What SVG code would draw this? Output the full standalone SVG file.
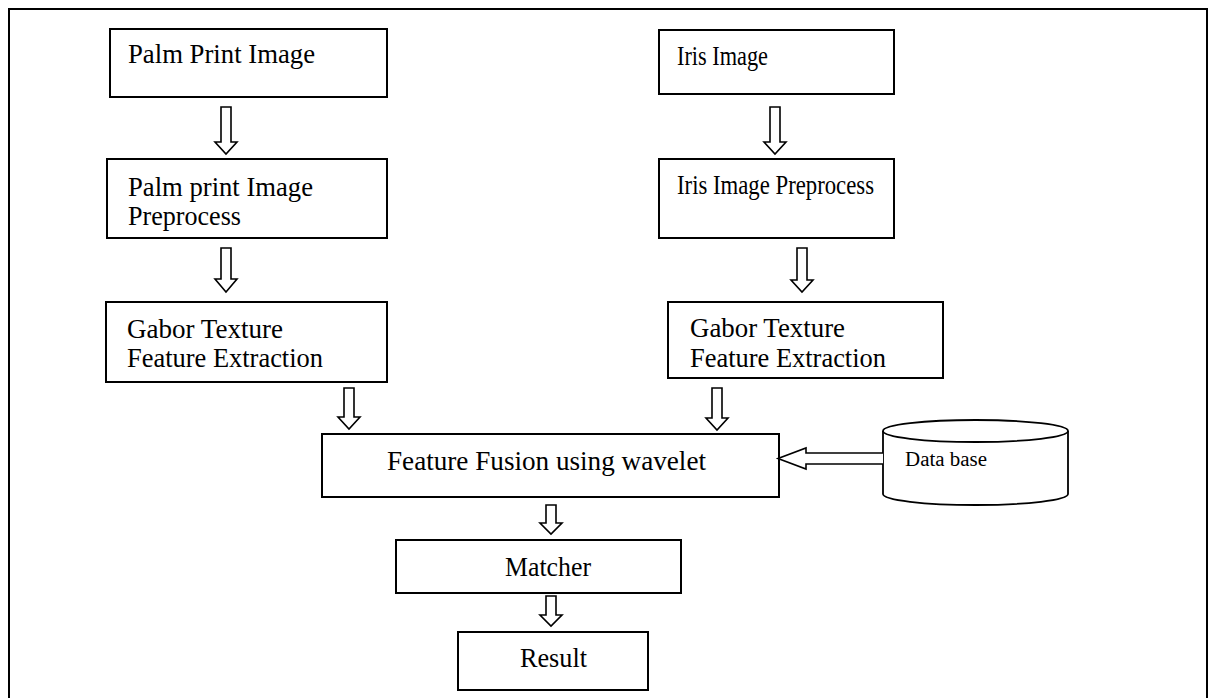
<svg xmlns="http://www.w3.org/2000/svg" width="1209" height="698" viewBox="0 0 1209 698">
  <style>
    .box { fill: #fff; stroke: #000; stroke-width: 2; }
    .frame { fill: none; stroke: #000; stroke-width: 2; }
    .arrow { fill: #fff; stroke: #000; stroke-width: 1.6; stroke-linejoin: miter; }
    .db { fill: #fff; stroke: #000; stroke-width: 1.8; }
    .lbl { font-family: "Liberation Serif", "Times New Roman", serif; font-size: 28px; fill: #000; }
    .small { font-family: "Liberation Serif", "Times New Roman", serif; font-size: 20px; fill: #000; }
  </style>
  <rect width="1209" height="698" fill="#fff"/>
  <rect class="frame" x="9" y="9" width="1198" height="700"/>

  <g id="palm-image">
    <rect class="box" x="110" y="29" width="277" height="68"/>
    <text class="lbl" x="128" y="63" textLength="187" lengthAdjust="spacingAndGlyphs">Palm Print Image</text>
  </g>
  <g id="palm-preprocess">
    <rect class="box" x="107" y="159" width="280" height="79"/>
    <text class="lbl" x="128" y="196" textLength="185" lengthAdjust="spacingAndGlyphs">Palm print Image</text>
    <text class="lbl" x="128" y="225" textLength="113" lengthAdjust="spacingAndGlyphs">Preprocess</text>
  </g>
  <g id="palm-gabor">
    <rect class="box" x="106" y="302" width="281" height="80"/>
    <text class="lbl" x="127" y="338" textLength="156" lengthAdjust="spacingAndGlyphs">Gabor Texture</text>
    <text class="lbl" x="127" y="367" textLength="196" lengthAdjust="spacingAndGlyphs">Feature Extraction</text>
  </g>
  <g id="iris-image">
    <rect class="box" x="659" y="30" width="235" height="64"/>
    <text class="lbl" x="677" y="65" textLength="91" lengthAdjust="spacingAndGlyphs">Iris Image</text>
  </g>
  <g id="iris-preprocess">
    <rect class="box" x="659" y="159" width="235" height="79"/>
    <text class="lbl" x="677" y="194" textLength="197" lengthAdjust="spacingAndGlyphs">Iris Image Preprocess</text>
  </g>
  <g id="iris-gabor">
    <rect class="box" x="668" y="302" width="275" height="76"/>
    <text class="lbl" x="690" y="337" textLength="155" lengthAdjust="spacingAndGlyphs">Gabor Texture</text>
    <text class="lbl" x="690" y="367" textLength="196" lengthAdjust="spacingAndGlyphs">Feature Extraction</text>
  </g>
  <g id="fusion">
    <rect class="box" x="322" y="434" width="457" height="63"/>
    <text class="lbl" x="387" y="470" textLength="319" lengthAdjust="spacingAndGlyphs">Feature Fusion using wavelet</text>
  </g>
  <g id="database">
    <path class="db" d="M883,431 V494 A92.5,11 0 0 0 1068,494 V431"/>
    <ellipse class="db" cx="975.5" cy="431" rx="92.5" ry="11"/>
    <text class="small" x="905" y="466" textLength="82" lengthAdjust="spacingAndGlyphs">Data base</text>
  </g>
  <g id="matcher">
    <rect class="box" x="396" y="540" width="285" height="53"/>
    <text class="lbl" x="505" y="576" textLength="86" lengthAdjust="spacingAndGlyphs">Matcher</text>
  </g>
  <g id="result">
    <rect class="box" x="458" y="632" width="190" height="58"/>
    <text class="lbl" x="520" y="667" textLength="67" lengthAdjust="spacingAndGlyphs">Result</text>
  </g>

  <g id="connectors">
    <path class="arrow" d="M221,107 H231 V142 H237 L226,154 L215,142 H221 Z"/>
    <path class="arrow" d="M221,248 H231 V279 H237 L226,292 L215,279 H221 Z"/>
    <path class="arrow" d="M344,388 H354 V417 H360 L349,429 L338,417 H344 Z"/>
    <path class="arrow" d="M712,388 H722 V418 H728 L717,430 L706,418 H712 Z"/>
    <path class="arrow" d="M770,107 H780 V142 H786 L775,154 L764,142 H770 Z"/>
    <path class="arrow" d="M797,248 H807 V280 H813 L802,292 L791,280 H797 Z"/>
    <path class="arrow" d="M546,505 H556 V523 H562 L551,534 L540,523 H546 Z"/>
    <path class="arrow" d="M546,596 H556 V615 H562 L551,626 L540,615 H546 Z"/>
    <path class="arrow" d="M883,453 H806 V448 L778,458.5 L806,469 V464 H883"/>
  </g>
</svg>
